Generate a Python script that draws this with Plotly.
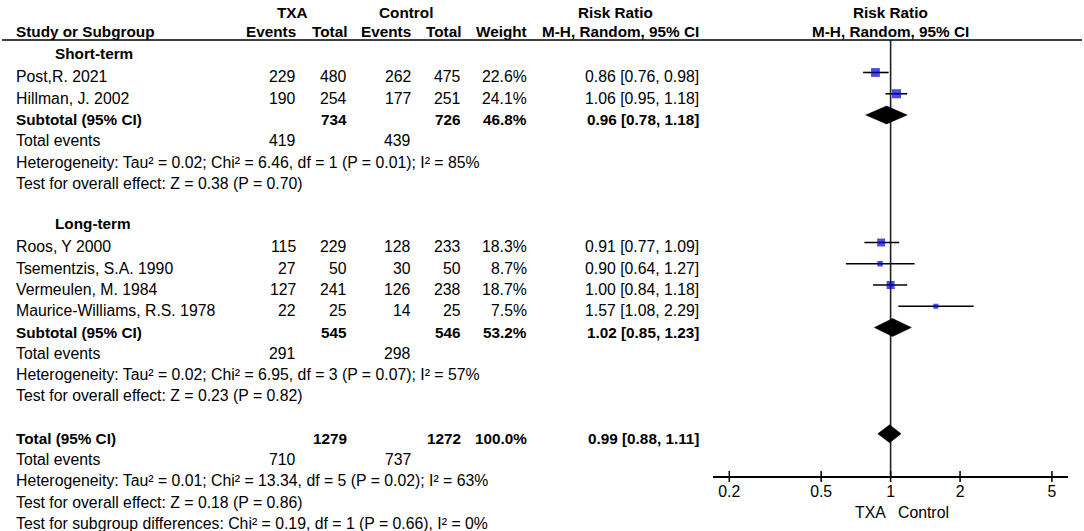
import math
import plotly.graph_objects as go

# ---------------- data ----------------
studies = ["Post,R. 2021", "Hillman, J. 2002", "Roos, Y 2000",
           "Tsementzis, S.A. 1990", "Vermeulen, M. 1984", "Maurice-Williams, R.S. 1978"]
study_group = [0, 0, 1, 1, 1, 1]
txa_events = [229, 190, 115, 27, 127, 22]
txa_total = [480, 254, 229, 50, 241, 25]
ctl_events = [262, 177, 128, 30, 126, 14]
ctl_total = [475, 251, 233, 50, 238, 25]
weights = [22.6, 24.1, 18.3, 8.7, 18.7, 7.5]
rr = [0.86, 1.06, 0.91, 0.90, 1.00, 1.57]
rr_lo = [0.76, 0.95, 0.77, 0.64, 0.84, 1.08]
rr_hi = [0.98, 1.18, 1.09, 1.27, 1.18, 2.29]

groups = ["Short-term", "Long-term"]
sub_txa_total = [734, 545]
sub_ctl_total = [726, 546]
sub_weight = [46.8, 53.2]
sub_rr = [0.96, 1.02]
sub_lo = [0.78, 0.85]
sub_hi = [1.18, 1.23]
sub_txa_events = [419, 291]
sub_ctl_events = [439, 298]
sub_het = ["Heterogeneity: Tau\u00b2 = 0.02; Chi\u00b2 = 6.46, df = 1 (P = 0.01); I\u00b2 = 85%",
           "Heterogeneity: Tau\u00b2 = 0.02; Chi\u00b2 = 6.95, df = 3 (P = 0.07); I\u00b2 = 57%"]
sub_test = ["Test for overall effect: Z = 0.38 (P = 0.70)",
            "Test for overall effect: Z = 0.23 (P = 0.82)"]

tot_txa_total = 1279
tot_ctl_total = 1272
tot_weight = 100.0
tot_rr, tot_lo, tot_hi = 0.99, 0.88, 1.11
tot_txa_events = 710
tot_ctl_events = 737
tot_het = "Heterogeneity: Tau\u00b2 = 0.01; Chi\u00b2 = 13.34, df = 5 (P = 0.02); I\u00b2 = 63%"
tot_test = "Test for overall effect: Z = 0.18 (P = 0.86)"
subgroup_test = "Test for subgroup differences: Chi\u00b2 = 0.19, df = 1 (P = 0.66), I\u00b2 = 0%"

tick_vals = [0.2, 0.5, 1, 2, 5]
tick_text = ["0.2", "0.5", "1", "2", "5"]
favours = ["TXA", "Control"]

# ---------------- layout constants ----------------
W, H = 1084, 531
FONT = "Liberation Sans, Arial, sans-serif"
FS = 15.8
FS_B = 15.3
ROW0, ROW_H = 77, 21.25
MARK_OFF = 4.5
AX_Y = 476.5
AX_X0, AX_X1 = 713, 1068
XMIN, XMAX = 0.17, 5.87
COL_NAME = 15
COL_GROUP = 54
COL_TE, COL_TT, COL_CE, COL_CT, COL_W, COL_RR = 297, 348, 412, 462, 528, 700
SQ_COLOR = "#0000CC"


def row_px(i):
    return ROW0 + ROW_H * (i - 3)


def px(x):
    return x / W


def py(y):
    return 1 - y / H


annotations = []


def txt(x, y, s, anchor="left", bold=False):
    annotations.append(dict(
        x=px(x), y=py(y), xref="paper", yref="paper", text=f"<b>{s}</b>" if bold else s,
        showarrow=False, xanchor=anchor, yanchor="middle",
        font=dict(family=FONT, size=FS_B if bold else FS, color="black"), borderpad=0))


def fmt_rr(v, l, h):
    return f"{v:.2f} [{l:.2f}, {h:.2f}]"


# headers
txt(292, 12, "TXA", "center", True)
txt(406, 12, "Control", "center", True)
txt(615, 12, "Risk Ratio", "center", True)
txt(890, 12, "Risk Ratio", "center", True)
txt(COL_NAME, 32, "Study or Subgroup", "left", True)
txt(COL_TE, 32, "Events", "right", True)
txt(COL_TT, 32, "Total", "right", True)
txt(COL_CE, 32, "Events", "right", True)
txt(COL_CT, 32, "Total", "right", True)
txt(COL_W, 32, "Weight", "right", True)
txt(COL_RR, 32, "M-H, Random, 95% CI", "right", True)
txt(890, 32, "M-H, Random, 95% CI", "center", True)

fig = go.Figure()

ci_x, ci_y = [], []
sq_x, sq_y, sq_s = [], [], []
diamonds = []

idx = 2
for g, gname in enumerate(groups):
    txt(COL_GROUP, row_px(idx) - 2, gname, "left", True)
    idx += 1
    for k in range(len(studies)):
        if study_group[k] != g:
            continue
        y = row_px(idx)
        txt(COL_NAME, y, studies[k])
        txt(COL_TE, y, str(txa_events[k]), "right")
        txt(COL_TT, y, str(txa_total[k]), "right")
        txt(COL_CE, y, str(ctl_events[k]), "right")
        txt(COL_CT, y, str(ctl_total[k]), "right")
        txt(COL_W, y, f"{weights[k]:.1f}%", "right")
        txt(COL_RR, y, fmt_rr(rr[k], rr_lo[k], rr_hi[k]), "right")
        ym = y - MARK_OFF
        ci_x += [rr_lo[k], rr_hi[k], None]
        ci_y += [ym, ym, None]
        sq_x.append(rr[k])
        sq_y.append(ym)
        sq_s.append(1.85 * math.sqrt(weights[k]))
        idx += 1
    y = row_px(idx)
    txt(COL_NAME, y, "Subtotal (95% CI)", "left", True)
    txt(COL_TT, y, str(sub_txa_total[g]), "right", True)
    txt(COL_CT, y, str(sub_ctl_total[g]), "right", True)
    txt(COL_W, y, f"{sub_weight[g]:.1f}%", "right", True)
    txt(COL_RR, y, fmt_rr(sub_rr[g], sub_lo[g], sub_hi[g]), "right", True)
    diamonds.append((sub_lo[g], sub_rr[g], sub_hi[g], y - MARK_OFF))
    idx += 1
    y = row_px(idx)
    txt(COL_NAME, y, "Total events")
    txt(COL_TE, y, str(sub_txa_events[g]), "right")
    txt(COL_CE, y, str(sub_ctl_events[g]), "right")
    idx += 1
    txt(COL_NAME, row_px(idx), sub_het[g])
    idx += 1
    txt(COL_NAME, row_px(idx), sub_test[g])
    idx += 2

# overall
y = row_px(idx)
txt(COL_NAME, y, "Total (95% CI)", "left", True)
txt(COL_TT, y, str(tot_txa_total), "right", True)
txt(COL_CT, y, str(tot_ctl_total), "right", True)
txt(COL_W, y, f"{tot_weight:.1f}%", "right", True)
txt(COL_RR, y, fmt_rr(tot_rr, tot_lo, tot_hi), "right", True)
diamonds.append((tot_lo, tot_rr, tot_hi, y - MARK_OFF))
idx += 1
y = row_px(idx)
txt(COL_NAME, y, "Total events")
txt(COL_TE, y, str(tot_txa_events), "right")
txt(COL_CE, y, str(tot_ctl_events), "right")
idx += 1
txt(COL_NAME, row_px(idx), tot_het)
idx += 1
txt(COL_NAME, row_px(idx), tot_test)
idx += 1
txt(COL_NAME, row_px(idx), subgroup_test)

# favours labels
txt(870, 512, favours[0], "center")
txt(923, 512, favours[1], "center")

# null line
fig.add_trace(go.Scatter(x=[1, 1], y=[40, AX_Y], mode="lines",
                         line=dict(color="#222", width=1.6), hoverinfo="skip"))
# ticks crossing the axis
tx, ty = [], []
for v in tick_vals:
    tx += [v, v, None]
    ty += [AX_Y - 5.5, AX_Y + 5.5, None]
fig.add_trace(go.Scatter(x=tx, y=ty, mode="lines", cliponaxis=False,
                         line=dict(color="black", width=1.5), hoverinfo="skip"))
# CI lines
fig.add_trace(go.Scatter(x=ci_x, y=ci_y, mode="lines",
                         line=dict(color="black", width=1.6), hoverinfo="skip"))
# squares
fig.add_trace(go.Scatter(x=sq_x, y=sq_y, mode="markers",
                         marker=dict(symbol="square", size=sq_s, color=SQ_COLOR,
                                     line=dict(width=0)), hoverinfo="skip"))
# diamonds
for lo, est, hi, yc in diamonds:
    fig.add_trace(go.Scatter(x=[lo, est, hi, est, lo], y=[yc, yc - 9, yc, yc + 9, yc],
                             mode="lines", fill="toself", fillcolor="black",
                             line=dict(color="black", width=0.5), hoverinfo="skip"))

# header underline
shapes = [dict(type="line", xref="paper", yref="paper", x0=px(2), x1=px(1082),
               y0=py(40), y1=py(40), line=dict(color="black", width=1.5))]

fig.update_layout(
    width=W, height=H, margin=dict(l=0, r=0, t=0, b=0),
    paper_bgcolor="white", plot_bgcolor="white", showlegend=False,
    annotations=annotations, shapes=shapes,
    xaxis=dict(type="log", range=[math.log10(XMIN), math.log10(XMAX)],
               domain=[AX_X0 / W, AX_X1 / W], anchor="free", position=py(AX_Y),
               showline=True, linecolor="black", linewidth=1.5,
               ticks="outside", ticklen=1, tickwidth=1.5, tickcolor="black",
               tickvals=tick_vals, ticktext=tick_text, showgrid=False, zeroline=False,
               tickfont=dict(family=FONT, size=FS, color="black"), fixedrange=True),
    yaxis=dict(range=[H, 0], domain=[0, 1], visible=False, fixedrange=True),
)

fig.write_html("out.html", config={"displayModeBar": False},
               post_script="document.body.style.margin='0';document.body.style.overflow='hidden';")
